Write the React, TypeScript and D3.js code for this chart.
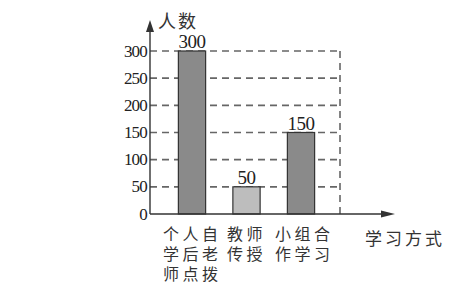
import React from 'react';
import * as d3 from 'd3';

const categories = ['个人自学后老师点拨', '教师传授', '小组合作学习'];
const categoryLines = [
  ['个人自', '学后老', '师点拨'],
  ['教师', '传授'],
  ['小组合', '作学习'],
];
const values = [300, 50, 150];
const barColors = ['#8a8a8a', '#bdbdbd', '#8a8a8a'];
const yTicks = [0, 50, 100, 150, 200, 250, 300];

const App = () => {
  const width = 451,
    height = 292;
  const originX = 150;
  const gridRight = 340;
  const axisEnd = 395;

  const y = d3.scaleLinear().domain([0, 300]).range([214, 51]);
  const x = d3
    .scaleBand<string>()
    .domain(categories)
    .range([164.75, 328.25])
    .paddingInner(0.5)
    .paddingOuter(0.25);

  const serif = '"Liberation Serif", "DejaVu Serif", serif';
  const cjk = '"Noto Sans CJK SC", sans-serif';
  const labelX = [163, 227, 275];

  return (
    <svg
      width={width}
      height={height}
      style={{ position: 'absolute', left: 0, top: 0, background: '#fff' }}
    >
      {/* dashed grid lines */}
      {yTicks
        .filter((t) => t > 0)
        .map((t) => (
          <line
            key={t}
            x1={originX}
            x2={gridRight}
            y1={y(t)}
            y2={y(t)}
            stroke="#666"
            strokeWidth={1.6}
            strokeDasharray="7,5"
          />
        ))}
      <line
        x1={gridRight}
        x2={gridRight}
        y1={y(300)}
        y2={y(0)}
        stroke="#666"
        strokeWidth={1.6}
        strokeDasharray="7,5"
      />

      {/* bars */}
      {categories.map((c, i) => (
        <g key={c}>
          <rect
            x={x(c)}
            y={y(values[i])}
            width={x.bandwidth()}
            height={y(0) - y(values[i])}
            fill={barColors[i]}
            stroke="#333"
            strokeWidth={1.2}
          />
          <text
            x={(x(c) as number) + x.bandwidth() / 2}
            y={y(values[i]) - 3}
            textAnchor="middle"
            fontFamily={serif}
            fontSize={19}
            letterSpacing={-0.5}
            fill="#222"
          >
            {values[i]}
          </text>
          <text fontFamily={cjk} fontSize={16} letterSpacing={3.5} fill="#333">
            {categoryLines[i].map((line, j) => (
              <tspan key={j} x={labelX[i]} y={240 + j * 20}>
                {line}
              </tspan>
            ))}
          </text>
        </g>
      ))}

      {/* axes */}
      <line x1={originX} x2={originX} y1={y(0)} y2={28} stroke="#333" strokeWidth={1.4} />
      <path d={`M${originX},20 L${originX - 4},32 L${originX + 4},32 Z`} fill="#333" />
      <line x1={originX} x2={axisEnd - 8} y1={y(0)} y2={y(0)} stroke="#333" strokeWidth={1.4} />
      <path
        d={`M${axisEnd},${y(0)} L${axisEnd - 14},${y(0) - 3.5} L${axisEnd - 14},${y(0) + 3.5} Z`}
        fill="#333"
      />

      {yTicks.map((t) => (
        <text
          key={t}
          x={originX - 3}
          y={y(t) + 5.5}
          textAnchor="end"
          fontFamily={serif}
          fontSize={17}
          fill="#222"
          letterSpacing={-0.8}
        >
          {t}
        </text>
      ))}

      <text x={158} y={28} fontFamily={cjk} fontSize={18} letterSpacing={2} fill="#333">
        人数
      </text>
      <text x={365} y={245} fontFamily={cjk} fontSize={17} letterSpacing={3} fill="#333">
        学习方式
      </text>
    </svg>
  );
};

export default App;
